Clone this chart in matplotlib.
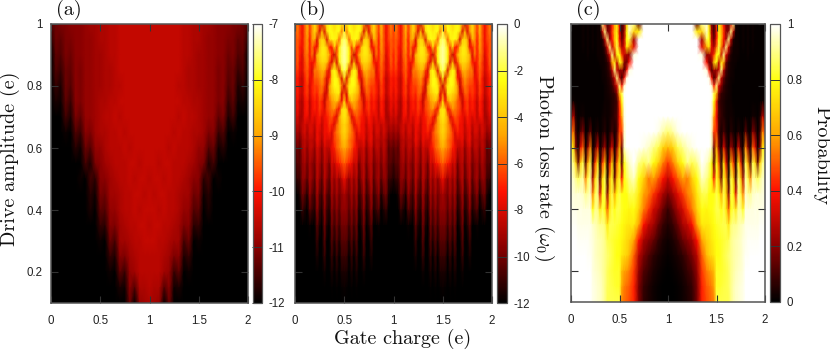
import matplotlib
matplotlib.use("Agg")
import matplotlib.pyplot as plt
import numpy as np
from matplotlib.colors import LinearSegmentedColormap

plt.rcParams["font.family"] = ["Liberation Sans", "DejaVu Sans"]
plt.rcParams["mathtext.fontset"] = "cm"
plt.rcParams["axes.formatter.use_mathtext"] = True

W, H = 830, 350

# panel a: q = 0 .. 1, mirrored about q = 1
DRIVE_A = [1.0, 0.95, 0.9, 0.85, 0.8, 0.75, 0.7, 0.65, 0.6, 0.55, 0.5, 0.45, 0.4, 0.35, 0.3, 0.25, 0.2, 0.15, 0.1]
CHARGE_A = [0.05 * i for i in range(21)]
LOSS_A = [
    [-11.4, -11.2, -11.1, -11.1, -11, -11, -11, -10.9, -10.8, -10.8, -10.7, -10.7, -10.6, -10.6, -10.5, -10.5, -10.5, -10.5, -10.5, -10.5, -10.5],
    [-11.7, -11.2, -11.3, -11.1, -11.1, -11, -11, -10.9, -10.9, -10.8, -10.7, -10.7, -10.6, -10.6, -10.5, -10.5, -10.5, -10.5, -10.5, -10.5, -10.5],
    [-12, -11.3, -11.4, -11.1, -11.2, -11, -11, -10.9, -10.9, -10.8, -10.8, -10.7, -10.6, -10.6, -10.5, -10.5, -10.5, -10.5, -10.5, -10.5, -10.5],
    [-12, -11.4, -11.6, -11.2, -11.3, -11, -11.1, -10.9, -10.9, -10.8, -10.8, -10.7, -10.7, -10.6, -10.5, -10.5, -10.5, -10.5, -10.5, -10.5, -10.5],
    [-12, -11.6, -11.8, -11.2, -11.4, -11, -11.1, -10.9, -10.9, -10.8, -10.8, -10.7, -10.7, -10.6, -10.6, -10.5, -10.5, -10.5, -10.5, -10.5, -10.5],
    [-12, -11.8, -11.9, -11.3, -11.6, -11, -11.1, -10.9, -10.9, -10.8, -10.7, -10.7, -10.6, -10.6, -10.5, -10.5, -10.5, -10.5, -10.5, -10.5, -10.5],
    [-12, -12, -12, -11.5, -11.8, -11.1, -11.3, -10.9, -10.9, -10.8, -10.7, -10.6, -10.6, -10.5, -10.6, -10.5, -10.5, -10.5, -10.5, -10.5, -10.5],
    [-12, -12, -12, -11.9, -12, -11.4, -11.6, -11, -11.1, -10.8, -10.7, -10.7, -10.6, -10.6, -10.5, -10.6, -10.5, -10.5, -10.5, -10.5, -10.5],
    [-12, -12, -12, -12, -12, -11.7, -11.9, -11.2, -11.4, -10.9, -10.9, -10.7, -10.6, -10.6, -10.6, -10.5, -10.6, -10.5, -10.5, -10.5, -10.5],
    [-12, -12, -12, -12, -12, -12, -12, -11.5, -11.8, -11.1, -11, -10.8, -10.7, -10.6, -10.6, -10.6, -10.5, -10.5, -10.6, -10.5, -10.5],
    [-12, -12, -12, -12, -12, -12, -11.9, -12, -11.5, -11.7, -11, -11, -10.8, -10.7, -10.6, -10.6, -10.5, -10.6, -10.5, -10.5, -10.6],
    [-12, -12, -12, -12, -12, -12, -12, -12, -11.7, -11.9, -11.1, -11.2, -10.8, -10.8, -10.7, -10.6, -10.6, -10.5, -10.5, -10.6, -10.5],
    [-12, -12, -12, -12, -12, -12, -12, -12, -11.8, -12, -11.3, -11.4, -10.9, -10.9, -10.7, -10.6, -10.6, -10.5, -10.6, -10.5, -10.5],
    [-12, -12, -12, -12, -12, -12, -12, -12, -12, -12, -11.6, -11.7, -11, -11.1, -10.8, -10.7, -10.6, -10.6, -10.5, -10.5, -10.6],
    [-12, -12, -12, -12, -12, -12, -12, -12, -12, -12, -11.9, -12, -11.2, -11.5, -10.8, -10.8, -10.7, -10.6, -10.6, -10.5, -10.5],
    [-12, -12, -12, -12, -12, -12, -12, -12, -12, -12, -12, -12, -11.6, -11.8, -11, -11.1, -10.8, -10.7, -10.6, -10.6, -10.6],
    [-12, -12, -12, -12, -12, -12, -12, -12, -12, -12, -12, -12, -11.9, -12, -11.3, -11.6, -10.9, -10.8, -10.6, -10.6, -10.6],
    [-12, -12, -12, -12, -12, -12, -12, -12, -12, -12, -12, -12, -12, -12, -11.8, -11.9, -11, -11.4, -10.7, -10.7, -10.6],
    [-12, -12, -12, -12, -12, -12, -12, -12, -12, -12, -12, -12, -12, -12, -12, -12, -11.2, -12, -10.9, -10.8, -10.7],
]

# panel b: q = 0 .. 0.5, mirrored about 0.5 and about 1
DRIVE_B = [1.0, 0.975, 0.95, 0.925, 0.9, 0.875, 0.85, 0.825, 0.8, 0.775, 0.75, 0.725, 0.7, 0.675, 0.65, 0.625, 0.6,
           0.55, 0.5, 0.45, 0.4, 0.35, 0.3, 0.25, 0.2, 0.15, 0.1]
CHARGE_B = [0.025 * i for i in range(21)]
LOSS_B = [
    [-6.5, -5.5, -6.5, -7.5, -6, -4.5, -6.5, -5, -3.5, -5, -6.5, -8.5, -5, -3, -2.5, -3, -3.5, -3, -2.5, -3, -4.5],
    [-6.5, -5.5, -6.5, -7.5, -6, -4.5, -6.5, -5, -3.5, -5, -8, -4.5, -8, -3.5, -2.5, -2.5, -3, -2.5, -2.5, -5.5, -2],
    [-6.5, -6, -6.5, -7.5, -6, -5, -7, -5, -4.5, -8, -4.5, -3.5, -4, -8, -3.5, -2.5, -2.5, -3, -6, -2, -1.5],
    [-6.5, -6, -7, -7.5, -6, -5, -7, -5.5, -7, -7.5, -4, -3, -3, -4, -7, -7, -3.5, -6.5, -3, -1.5, -1],
    [-7, -6, -7, -8, -6, -5.5, -7, -5.5, -8, -4.5, -3.5, -3, -3, -3.5, -4.5, -7, -8.5, -6, -2.5, -1.5, -1],
    [-7, -6, -7.5, -8, -6.5, -5.5, -7, -7.5, -7, -5, -4, -3.5, -3.5, -4, -6.5, -8, -4.5, -8, -3, -1.5, -1],
    [-7, -6.5, -7.5, -8, -6.5, -6, -7, -8, -5.5, -5.5, -5, -4.5, -4.5, -6.5, -8, -3.5, -2.5, -4, -8, -2.5, -1.5],
    [-7.5, -7, -8, -8.5, -7, -6, -7.5, -7.5, -6, -6, -5.5, -5, -6, -8, -7, -3.5, -2.5, -2.5, -4.5, -8, -3],
    [-7.5, -7, -8, -8.5, -7, -6.5, -8, -7, -6.5, -6.5, -6, -5.5, -6.5, -8.5, -5, -3.5, -2.5, -2.5, -3, -5.5, -8.5],
    [-8, -7, -8, -8.5, -7, -6.5, -8, -7, -6.5, -7, -6, -6, -8, -8, -5, -4, -3.5, -3, -3, -8, -6],
    [-8, -7.5, -8.5, -9, -7.5, -7, -8.5, -7.5, -7, -7.5, -6.5, -7, -8.5, -6.5, -6, -5, -4.5, -4, -5.5, -7.5, -3.5],
    [-8.5, -7.5, -8.5, -9, -7.5, -7, -8.5, -7.5, -7, -7.5, -6.5, -7, -8, -6.5, -6, -5.5, -5, -6.5, -7.5, -3.5, -3],
    [-8.5, -8, -9, -9, -7.5, -7.5, -8.5, -7.5, -8, -7.5, -7, -8, -7.5, -7, -6.5, -6, -7, -8, -5, -3.5, -3],
    [-9, -8.5, -9, -8.5, -8, -8.5, -8, -8, -8.5, -7.5, -7.5, -8.5, -7.5, -7.5, -6.5, -7, -8, -6, -5, -4, -3.5],
    [-9.5, -9, -9.5, -8.5, -8, -9, -8, -8, -9, -7.5, -8, -8.5, -7.5, -7.5, -7, -8, -6.5, -5.5, -5, -4, -3.5],
    [-10, -9.5, -10, -9, -8.5, -9, -8.5, -8.5, -9, -7.5, -8, -9, -7.5, -8, -8, -8, -6.5, -6, -5.5, -4.5, -4],
    [-10.5, -10, -10.5, -9, -8.5, -9.5, -8.5, -8.5, -9.5, -8, -8.5, -9.5, -8, -8.5, -8.5, -7.5, -7, -6, -5.5, -5, -4.5],
    [-11, -10.5, -10.5, -9.5, -9, -10, -9, -9.5, -10, -8.5, -9, -10, -8.5, -9, -10, -8, -8.5, -7.5, -7, -6.5, -6],
    [-11.5, -11, -11, -9.5, -9.5, -10.5, -9, -9.5, -10.5, -8.5, -9.5, -10.5, -8.5, -9.5, -10.5, -8.5, -9.5, -8.5, -9.5, -8.5, -7.5],
    [-12, -12, -11.5, -10, -10.5, -11.5, -9.5, -10.5, -11, -9, -10.5, -11, -9, -10.5, -11, -9, -10, -9, -10, -9.5, -9],
    [-12, -12, -12, -11, -11.5, -12, -10.5, -11, -11.5, -9.5, -11, -11.5, -9.5, -11, -11.5, -9.5, -10.5, -9.5, -10.5, -9.5, -9.5],
    [-12, -12, -12, -12, -12, -12, -11.8, -12, -12, -10.5, -11.5, -12, -10, -11.5, -12, -10, -11, -10, -11, -10, -10],
    [-12, -12, -12, -12, -12, -12, -12, -12, -12, -11, -12, -12, -10.5, -12, -12, -10.5, -11.5, -10.5, -11.5, -10.5, -10.5],
    [-12, -12, -12, -12, -12, -12, -12, -12, -12, -11.5, -12, -12, -11, -12, -12, -11, -12, -11, -12, -11, -11],
    [-12, -12, -12, -12, -12, -12, -12, -12, -12, -12, -12, -12, -11.7, -12, -12, -11.5, -12, -11.5, -12, -11.5, -11.5],
    [-12, -12, -12, -12, -12, -12, -12, -12, -12, -12, -12, -12, -12, -12, -12, -11.9, -12, -11.9, -12, -11.9, -11.8],
    [-12, -12, -12, -12, -12, -12, -12, -12, -12, -12, -12, -12, -12, -12, -12, -12, -12, -12, -12, -12, -12],
]

# panel c: q = 0 .. 1, finer below 0.6, mirrored about q = 1
DRIVE_C = [1.0, 0.975, 0.95, 0.925, 0.9, 0.875, 0.85, 0.825, 0.8, 0.775, 0.75,
           0.7, 0.65, 0.6, 0.55, 0.5, 0.45, 0.4, 0.35, 0.3, 0.25, 0.2, 0.15, 0.1]
CHARGE_C = [0.025 * i for i in range(25)] + [0.65, 0.7, 0.75, 0.8, 0.85, 0.9, 0.95, 1.0]
PROB_C = [
    [.01, .01, .01, .01, .01, .02, .01, .02, .01, .02, .01, .02, .03, .9, .35, .12, .2, .4, .6, .75, .4, .1, .2, .7, .95, .9, .15, 1, 1, 1, 1, 1, 1],
    [.01, .01, .01, .01, .01, .02, .01, .02, .01, .02, .01, .02, .02, .3, .9, .2, .2, .45, .65, .75, .35, .1, .25, .75, .95, .7, .75, 1, 1, 1, 1, 1, 1],
    [.01, .01, .01, .01, .01, .02, .01, .02, .01, .02, .01, .02, .02, .05, .3, .9, .25, .4, .65, .8, .4, .15, .3, .8, .85, .25, 1, 1, 1, 1, 1, 1, 1],
    [.01, .01, .01, .01, .01, .02, .01, .02, .01, .02, .01, .02, .02, .03, .1, .35, .9, .3, .55, .85, .5, .25, .35, .75, .6, .35, 1, 1, 1, 1, 1, 1, 1],
    [.01, .01, .01, .01, .01, .01, .01, .02, .01, .01, .01, .02, .02, .02, .05, .15, .35, .9, .3, .8, .8, .45, .3, .25, .2, .97, 1, 1, 1, 1, 1, 1, 1],
    [.01, .01, .01, .01, .01, .01, .01, .01, .01, .01, .01, .01, .02, .02, .03, .06, .15, .6, .75, .3, .8, .7, .2, .15, .4, 1, 1, 1, 1, 1, 1, 1, 1],
    [.01, .01, .01, .01, .01, .01, .01, .01, .01, .01, .01, .01, .01, .02, .03, .05, .1, .3, .9, .3, .2, .25, .1, .4, .97, 1, 1, 1, 1, 1, 1, 1, 1],
    [.01, .01, .01, .01, .01, .01, .01, .01, .01, .01, .01, .01, .01, .02, .02, .04, .06, .15, .3, .9, .3, .08, .4, .97, 1, 1, 1, 1, 1, 1, 1, 1, 1],
    [.01, .01, .01, .01, .01, .01, .01, .01, .01, .01, .01, .01, .01, .01, .02, .03, .05, .08, .2, .35, .9, .4, .95, 1, 1, 1, 1, 1, 1, 1, 1, 1, 1],
    [.01, .01, .01, .01, .01, .01, .01, .01, .01, .01, .01, .01, .01, .01, .02, .03, .04, .06, .08, .2, .65, .85, 1, 1, 1, 1, 1, 1, 1, 1, 1, 1, 1],
    [.02, .02, .01, .01, .01, .01, .01, .01, .01, .01, .01, .01, .01, .01, .02, .02, .03, .05, .06, .1, .45, .8, .98, 1, 1, 1, 1, 1, 1, 1, 1, 1, 1],
    [.12, .3, .05, .01, .02, .03, .01, .01, .01, .01, .01, .01, .01, .02, .03, .02, .03, .05, .08, .12, .4, .6, .97, 1, 1, 1, 1, 1, 1, 1, 1, 1, 1],
    [.45, .55, .1, .01, .12, .2, .01, .03, .15, .01, .02, .05, .01, .03, .06, .01, .04, .1, .03, .1, .45, .45, .95, 1, 1, 1, 1, 1, 1, 1, .98, .92, .88],
    [.75, .75, .2, .03, .35, .5, .02, .2, .55, .02, .1, .35, .01, .12, .25, .01, .12, .35, .03, .2, .6, .15, .95, 1, 1, 1, 1, .98, .95, .9, .85, .7, .65],
    [.9, .9, .7, .15, .7, .85, .1, .6, .85, .05, .45, .75, .03, .45, .65, .02, .35, .7, .05, .5, .8, .12, .8, .9, .95, 1, .9, .85, .9, .8, .7, .55, .45],
    [.95, .95, .9, .85, .9, .92, .55, .85, .92, .25, .7, .88, .1, .7, .85, .05, .6, .82, .15, .65, .82, .4, .8, .85, .9, .95, .8, .7, .55, .6, .5, .4, .3],
    [.97, .97, .96, .97, .96, .95, .9, .92, .95, .55, .85, .9, .35, .8, .85, .2, .7, .85, .6, .8, .85, .8, .8, .8, .85, .85, .75, .6, .55, .45, .35, .25, .18],
    [.98, .98, .98, .97, .98, .97, .97, .97, .97, .8, .9, .9, .75, .85, .8, .5, .75, .85, .8, .85, .85, .82, .8, .8, .78, .8, .7, .55, .45, .32, .25, .15, .08],
    [.99, .99, .99, .98, .98, .98, .98, .98, .98, .95, .94, .92, .9, .9, .88, .75, .85, .85, .84, .83, .82, .8, .78, .76, .75, .75, .6, .4, .3, .25, .15, .08, .05],
    [1, 1, 1, .99, .99, .99, .99, .99, .98, .97, .95, .94, .93, .92, .9, .85, .84, .83, .82, .81, .8, .78, .75, .72, .7, .6, .4, .25, .2, .15, .08, .04, .02],
    [1, 1, 1, 1, 1, 1, 1, .99, .99, .97, .95, .94, .93, .92, .9, .88, .86, .84, .82, .8, .8, .75, .72, .7, .65, .5, .28, .18, .12, .07, .04, .02, .01],
    [1, 1, 1, 1, 1, 1, 1, 1, 1, .97, .96, .95, .94, .92, .9, .86, .84, .83, .82, .82, .82, .65, .6, .58, .55, .45, .22, .12, .08, .04, .02, .01, 0],
    [1, 1, 1, 1, 1, 1, 1, 1, 1, .98, .97, .96, .95, .93, .9, .86, .85, .84, .83, .82, .82, .6, .55, .52, .5, .42, .18, .08, .05, .02, .01, 0, 0],
    [1, 1, 1, 1, 1, 1, 1, 1, 1, .98, .97, .96, .95, .93, .9, .85, .85, .85, .85, .85, .85, .55, .52, .5, .48, .42, .18, .07, .04, .02, .01, 0, 0],
]

X_TICKS = [0, 0.5, 1, 1.5, 2]
X_TICK_LABELS = ["0", "0.5", "1", "1.5", "2"]
Y_TICKS = [0.2, 0.4, 0.6, 0.8, 1]
Y_TICK_LABELS = ["0.2", "0.4", "0.6", "0.8", "1"]
CB_TICKS_A = [-12, -11, -10, -9, -8, -7]
CB_TICKS_B = [-12, -10, -8, -6, -4, -2, 0]
CB_TICKS_C = [0, 0.2, 0.4, 0.6, 0.8, 1]

FRAME = "#555555"

hot = LinearSegmentedColormap.from_list(
    "gp_hot",
    [(0, "#000000"), (0.2, "#8a0000"), (0.4, "#ff1000"), (0.6, "#ffa500"), (0.8, "#ffff10"), (1, "#ffffff")],
)


def box(x0, y0, x1, y1):
    # pixel box, y measured from the top of the picture
    return [x0 / W, 1 - y1 / H, (x1 - x0) / W, (y1 - y0) / H]


def mirror_about_one(charge, values):
    charge = np.array(charge)
    values = np.array(values, dtype=float)
    full_q = np.concatenate([charge, 2 * charge[-1] - charge[-2::-1]])
    full_v = np.hstack([values, values[:, -2::-1]])
    return full_q, full_v


def draw_panel(fig, q, drive, z, vmin, vmax, cb_ticks, ax_box, cax_box, show_y=False):
    ax = fig.add_axes(box(*ax_box))
    mesh = ax.pcolormesh(q, drive, z, cmap=hot, vmin=vmin, vmax=vmax, shading="gouraud")
    ax.set_xlim(0, 2)
    ax.set_ylim(0.1, 1)
    ax.set_xticks(X_TICKS, X_TICK_LABELS)
    ax.set_yticks(Y_TICKS, Y_TICK_LABELS if show_y else [""] * len(Y_TICKS))
    ax.tick_params(direction="in", top=True, right=True, length=5, width=0.8, color="#333333", labelsize=8.3, labelcolor="#222222")
    ax.tick_params(axis="x", pad=8.5)
    ax.tick_params(axis="y", pad=6)
    for spine in ax.spines.values():
        spine.set_color(FRAME)
        spine.set_linewidth(1.1)

    cax = fig.add_axes(box(*cax_box))
    cbar = fig.colorbar(mesh, cax=cax)
    cbar.set_ticks(cb_ticks, labels=[f"{t:g}" for t in cb_ticks])
    cax.tick_params(direction="in", length=7.2, width=0.7, color="#333333", labelsize=8.3, labelcolor="#222222", pad=5)
    cbar.outline.set_edgecolor(FRAME)
    cbar.outline.set_linewidth(0.9)
    return ax


fig = plt.figure(figsize=(W / 100, H / 100), dpi=100)

q_a, z_a = mirror_about_one(CHARGE_A, LOSS_A)
draw_panel(fig, q_a, DRIVE_A, z_a, -12, -7, CB_TICKS_A, (51, 24, 248, 303), (253, 24, 262, 303), show_y=True)

q_half, z_half = mirror_about_one(CHARGE_B, LOSS_B)
q_b, z_b = mirror_about_one(q_half, z_half)
draw_panel(fig, q_b, DRIVE_B, z_b, -12, 0, CB_TICKS_B, (295, 24, 492, 303), (497, 24, 507, 303))

q_c, z_c = mirror_about_one(CHARGE_C, PROB_C)
draw_panel(fig, q_c, DRIVE_C, z_c, 0, 1, CB_TICKS_C, (571, 24, 765, 302), (770, 24, 780, 302))

serif = dict(family="cmr10", color="#111111")
fig.text(68.5 / W, 1 - 10 / H, "(a)", ha="center", va="center", fontsize=14.5, **serif)
fig.text(312 / W, 1 - 10 / H, "(b)", ha="center", va="center", fontsize=14.5, **serif)
fig.text(588 / W, 1 - 10 / H, "(c)", ha="center", va="center", fontsize=14.5, **serif)
fig.text(10 / W, 1 - 159 / H, "Drive amplitude (e)", rotation=90, ha="center", va="center", fontsize=14.5, **serif)
fig.text(403 / W, 1 - 339 / H, "Gate charge (e)", ha="center", va="center", fontsize=14.5, **serif)
fig.text(544 / W, 1 - 167 / H, r"Photon loss rate ($\omega_0$)", rotation=270, ha="center", va="center", fontsize=14.5, **serif)
fig.text(821 / W, 1 - 156 / H, "Probability", rotation=270, ha="center", va="center", fontsize=14.5, **serif)

fig.savefig("out.png", dpi=100)
